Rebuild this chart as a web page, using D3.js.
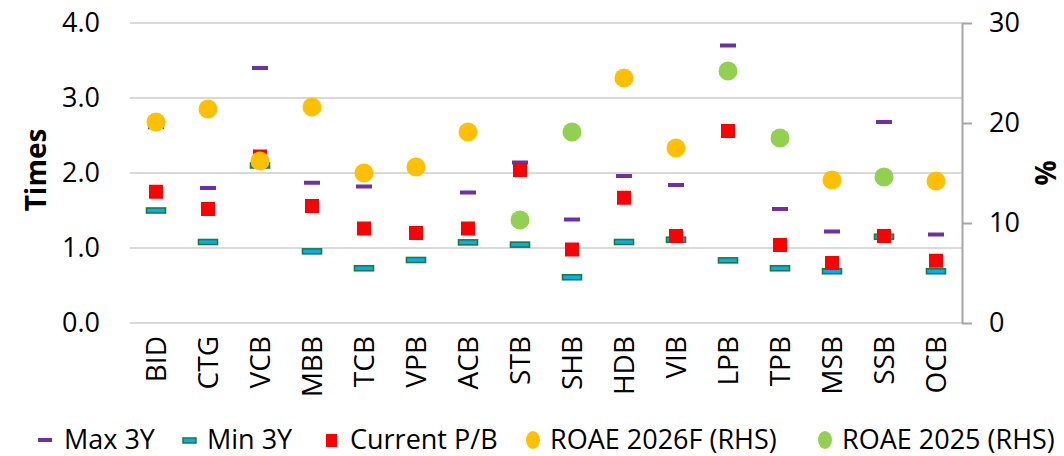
<!DOCTYPE html>
<html>
<head>
<meta charset="utf-8">
<script src="https://cdn.jsdelivr.net/npm/d3@7"></script>
<style>
  body { margin: 0; background: #fff; }
  svg text { font-family: "Open Sans", "Noto Sans", sans-serif; fill: #000; }
</style>
</head>
<body>
<div id="chart"></div>
<script>
const banks = ["BID", "CTG", "VCB", "MBB", "TCB", "VPB", "ACB", "STB", "SHB", "HDB", "VIB", "LPB", "TPB", "MSB", "SSB", "OCB"]
const max3y = [2.61, 1.80, 3.40, 1.87, 1.82, 2.08, 1.74, 2.14, 1.38, 1.96, 1.84, 3.70, 1.52, 1.22, 2.68, 1.18]
const min3y = [1.50, 1.08, 2.10, 0.955, 0.73, 0.84, 1.075, 1.045, 0.61, 1.08, 1.11, 0.835, 0.73, 0.69, 1.15, 0.69]
const currentPB = [1.75, 1.52, 2.22, 1.56, 1.26, 1.20, 1.26, 2.04, 0.98, 1.67, 1.16, 2.56, 1.04, 0.80, 1.16, 0.83]
const roae2026 = [20.1, 21.4, 16.2, 21.6, 15.0, 15.6, 19.1, null, null, 24.5, 17.5, null, null, 14.3, null, 14.2]
const roae2025 = [null, null, null, null, null, null, null, 10.3, 19.1, null, null, 25.2, 18.5, null, 14.6, null]
const leftTicks = [0, 1, 2, 3, 4]
const rightTicks = [0, 10, 20, 30]

const W = 1064, H = 456
const margin = { top: 23, right: 102, bottom: 133, left: 130 }
const plotW = W - margin.left - margin.right
const plotH = H - margin.top - margin.bottom

const svg = d3.select("#chart").append("svg")
  .attr("width", W).attr("height", H)

const g = svg.append("g").attr("transform", `translate(${margin.left},${margin.top})`)

const x = d3.scaleBand().domain(banks).range([0, plotW])
const yL = d3.scaleLinear().domain([0, 4]).range([plotH, 0])
const yR = d3.scaleLinear().domain([0, 30]).range([plotH, 0])
const cx = (d) => x(d) + x.bandwidth() / 2

// gridlines
g.append("g").selectAll("line").data(leftTicks).join("line")
  .attr("x1", 0).attr("x2", plotW)
  .attr("y1", (d) => yL(d)).attr("y2", (d) => yL(d))
  .attr("stroke", "#d9d9d9").attr("stroke-width", 2)

// left axis labels (no line)
const axL = g.append("g")
  .call(d3.axisLeft(yL).tickValues(leftTicks).tickFormat(d3.format(".1f")).tickSize(0).tickPadding(30))
axL.select(".domain").remove()
axL.selectAll("text").style("font-size", "27px")

// right axis
const axR = g.append("g").attr("transform", `translate(${plotW},0)`)
  .call(d3.axisRight(yR).tickValues(rightTicks).tickSize(10).tickSizeOuter(0).tickPadding(17))
axR.select(".domain").attr("stroke", "#a6a6a6").attr("stroke-width", 2)
axR.selectAll(".tick line").attr("stroke", "#a6a6a6").attr("stroke-width", 2)
axR.selectAll("text").style("font-size", "27px")

// category axis
const axX = g.append("g").attr("transform", `translate(0,${plotH})`)
  .call(d3.axisBottom(x).tickSize(0).tickPadding(0))
axX.select(".domain").remove()
axX.selectAll("text")
  .style("font-size", "28px")
  .attr("text-anchor", "end")
  .attr("dy", "0.35em")
  .attr("transform", "translate(0,13) rotate(-90)")

// axis titles
svg.append("text").attr("transform", "translate(46,170) rotate(-90)")
  .attr("text-anchor", "middle").style("font-size", "28px").style("font-weight", "bold").text("Times")
svg.append("text").attr("transform", "translate(1056,173) rotate(-90)")
  .attr("text-anchor", "middle").style("font-size", "28px").style("font-weight", "bold").text("%")

// max 3Y
g.append("g").selectAll("rect").data(banks).join("rect")
  .attr("x", (d) => cx(d) - 8).attr("y", (d, i) => yL(max3y[i]) - 2)
  .attr("width", 16).attr("height", 4).attr("fill", "#7030a0")

// min 3Y
g.append("g").selectAll("rect").data(banks).join("rect")
  .attr("x", (d) => cx(d) - 9.5).attr("y", (d, i) => yL(min3y[i]) - 2.5)
  .attr("width", 19).attr("height", 5).attr("fill", "#00b0f0")
  .attr("stroke", "#1e7b3a").attr("stroke-width", 1.6)

// current P/B
g.append("g").selectAll("rect").data(banks).join("rect")
  .attr("x", (d) => cx(d) - 7).attr("y", (d, i) => yL(currentPB[i]) - 7)
  .attr("width", 14).attr("height", 14).attr("fill", "#ff0000")

// ROAE 2026F
g.append("g").selectAll("circle").data(banks.filter((d, i) => roae2026[i] != null)).join("circle")
  .attr("cx", cx).attr("cy", (d) => yR(roae2026[banks.indexOf(d)]))
  .attr("r", 9.5).attr("fill", "#ffc000")

// ROAE 2025
g.append("g").selectAll("circle").data(banks.filter((d, i) => roae2025[i] != null)).join("circle")
  .attr("cx", cx).attr("cy", (d) => yR(roae2025[banks.indexOf(d)]))
  .attr("r", 9.5).attr("fill", "#92d050")

// legend
const legend = svg.append("g").attr("transform", "translate(0,440)")
const items = [
  { label: "Max 3Y", x: 38, kind: "max" },
  { label: "Min 3Y", x: 183, kind: "min" },
  { label: "Current P/B", x: 326, kind: "cur" },
  { label: "ROAE 2026F (RHS)", x: 526, kind: "y26" },
  { label: "ROAE 2025 (RHS)", x: 818, kind: "y25" }
]
items.forEach((it) => {
  const li = legend.append("g").attr("transform", `translate(${it.x},0)`)
  if (it.kind === "max") li.append("rect").attr("x", 0).attr("y", -2).attr("width", 14).attr("height", 4).attr("fill", "#7030a0")
  if (it.kind === "min") li.append("rect").attr("x", 0).attr("y", -2).attr("width", 13).attr("height", 5).attr("fill", "#00b0f0").attr("stroke", "#1e7b3a").attr("stroke-width", 1.5)
  if (it.kind === "cur") li.append("rect").attr("x", 0).attr("y", -6).attr("width", 11).attr("height", 13).attr("fill", "#ff0000")
  if (it.kind === "y26") li.append("ellipse").attr("cx", 7).attr("cy", 0).attr("rx", 7).attr("ry", 9).attr("fill", "#ffc000")
  if (it.kind === "y25") li.append("ellipse").attr("cx", 7).attr("cy", 0).attr("rx", 7).attr("ry", 9).attr("fill", "#92d050")
  li.append("text").attr("x", it.kind === "max" ? 26 : 24).attr("dy", "0.35em")
    .style("font-size", "27px").text(it.label)
})
</script>
</body>
</html>
